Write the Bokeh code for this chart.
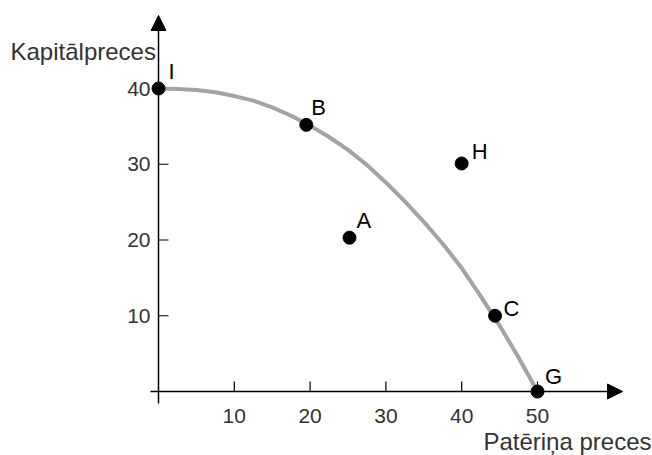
from bokeh.plotting import figure
from bokeh.models import ColumnDataSource, Range1d, Arrow, NormalHead
from bokeh.core.properties import value
from bokeh.embed import file_html
from bokeh.resources import INLINE

# ---- data ----
curve_x = [0, 2.5, 5, 7.5, 10, 12.5, 15, 17.5, 20, 22.5, 25, 27.5, 30, 32.5, 35, 37.5, 40, 42.5, 45, 47.5, 50]
curve_y = [40, 39.95, 39.8, 39.5, 39.0, 38.4, 37.5, 36.4, 35.1, 33.6, 31.9, 29.9, 27.6, 25.1, 22.4, 19.5, 16.3, 12.6, 8.7, 4.5, 0]

point_names = ["I", "B", "A", "H", "C", "G"]
point_x = [0, 19.5, 25.2, 40, 44.4, 50]
point_y = [40, 35.2, 20.3, 30.1, 10, 0]

x_ticks = [10, 20, 30, 40, 50]
x_tick_labels = ["10", "20", "30", "40", "50"]
y_ticks = [10, 20, 30, 40]
y_tick_labels = ["10", "20", "30", "40"]

x_title = "Patēriņa preces"
y_title = "Kapitālpreces"

# ---- styling / layout ----
label_dx = [10, 5, 7, 10, 8.5, 7.5]
label_dy = [-17, -17.5, -17, -12, -7.5, -15.5]

FONT = value("Liberation Sans")
W, H = 652, 455
PX = 7.58   # pixels per data unit (x)
PY = 7.575  # pixels per data unit (y)
OX, OY = 158, 391  # screen position of the origin

p = figure(width=W, height=H, output_backend="svg", toolbar_location=None,
           x_axis_type=None, y_axis_type=None, min_border=0,
           x_range=Range1d(-OX / PX, (W - OX) / PX),
           y_range=Range1d(-(H - OY) / PY, OY / PY))
p.outline_line_color = None
p.grid.visible = False
p.background_fill_color = "white"
p.border_fill_color = "white"

# axes with arrow heads
p.add_layout(Arrow(end=NormalHead(size=15, fill_color="black", line_color="black"),
                   x_start=0, y_start=-12 / PY, x_end=0, y_end=(OY - 15) / PY,
                   line_color="black", line_width=1.5))
p.add_layout(Arrow(end=NormalHead(size=15, fill_color="black", line_color="black"),
                   x_start=-8 / PX, y_start=0, x_end=(622 - OX) / PX, y_end=0,
                   line_color="black", line_width=1.5))

tick_len = 10 / PX
p.segment(x0=x_ticks, y0=[0] * len(x_ticks), x1=x_ticks, y1=[tick_len] * len(x_ticks),
          line_color="black", line_width=1.2)
p.segment(x0=[0] * len(y_ticks), y0=y_ticks, x1=[tick_len] * len(y_ticks), y1=y_ticks,
          line_color="black", line_width=1.2)

# tick labels
p.text(x=x_ticks, y=[-24.5 / PY] * len(x_ticks), text=x_tick_labels,
       text_font=FONT, text_font_size="21px", text_color="#333333",
       text_align="center", text_baseline="middle")
p.text(x=[-8 / PX] * len(y_ticks), y=y_ticks, text=y_tick_labels,
       text_font=FONT, text_font_size="21px", text_color="#333333",
       text_align="right", text_baseline="middle")

# axis titles
p.text(x=[(10 - OX) / PX], y=[(OY - 50.5) / PY], text=[y_title], text_font=FONT,
       text_font_size="24px", text_color="#333333",
       text_align="left", text_baseline="middle")
p.text(x=[(651 - OX) / PX], y=[(OY - 441) / PY], text=[x_title], text_font=FONT,
       text_font_size="24px", text_color="#333333",
       text_align="right", text_baseline="middle")

# production possibility frontier
p.line(curve_x, curve_y, line_color="#a3a3a3", line_width=4, line_cap="round")

# points
src = ColumnDataSource(dict(x=point_x, y=point_y, name=point_names,
                            dx=label_dx, dy=label_dy))
p.scatter("x", "y", source=src, size=13, fill_color="black", line_color="black")
p.text("x", "y", text="name", source=src, x_offset="dx", y_offset="dy",
       text_font=FONT, text_font_size="22px", text_color="black",
       text_align="left", text_baseline="middle")

open("out.html", "w").write(file_html(p, INLINE))
